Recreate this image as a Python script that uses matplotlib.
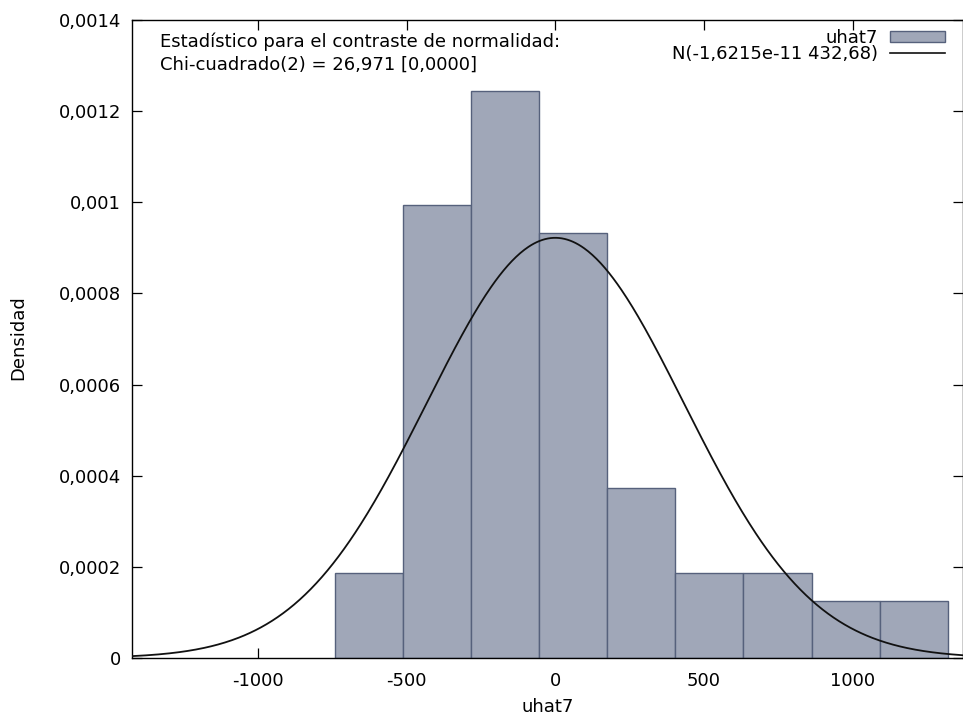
import numpy as np
import matplotlib
matplotlib.use("Agg")
import matplotlib.pyplot as plt
from matplotlib.patches import Patch
from matplotlib.lines import Line2D

plt.rcParams['font.family'] = ['DejaVu Sans']

# Data
bin_edges = [-741, -512, -283, -54, 175, 404, 633, 862, 1091, 1320]
densities = [0.000187, 0.000995, 0.001244, 0.000933, 0.000373, 0.000187, 0.000187, 0.000124, 0.000124]
norm_mean = -1.6215e-11
norm_sd = 432.68
xticks = [-1000, -500, 0, 500, 1000]
xtick_labels = ['-1000', '-500', '0', '500', '1000']
yticks = [0, 0.0002, 0.0004, 0.0006, 0.0008, 0.001, 0.0012, 0.0014]
ytick_labels = ['0', '0,0002', '0,0004', '0,0006', '0,0008', '0,001', '0,0012', '0,0014']

FS = 13

fig = plt.figure(figsize=(9.63, 7.18), dpi=100)
ax = fig.add_axes([132/963, 60/718, (962.5-132)/963, (658-20)/718])

fill = '#a0a7b8'
edge = '#56617c'
edges = np.array(bin_edges)
ax.bar(edges[:-1], densities, width=np.diff(edges), align='edge',
       color=fill, edgecolor=edge, linewidth=1.0, zorder=2)

xlo, xhi = -1424, 1370
xs = np.linspace(xlo, xhi, 600)
pdf = np.exp(-0.5 * ((xs - norm_mean) / norm_sd) ** 2) / (norm_sd * np.sqrt(2 * np.pi))
ax.plot(xs, pdf, color='#111111', linewidth=1.3, zorder=3)

ax.set_xlim(xlo, xhi)
ax.set_ylim(0, 0.0014)
ax.set_xticks(xticks)
ax.set_xticklabels(xtick_labels)
ax.set_yticks(yticks)
ax.set_yticklabels(ytick_labels)
ax.tick_params(direction='in', length=7, width=0.9, top=True, right=True,
               labelsize=FS, colors='black')
ax.tick_params(axis='x', pad=10)
ax.tick_params(axis='y', pad=8)
for s in ax.spines.values():
    s.set_linewidth(1.0)

ax.set_xlabel('uhat7', fontsize=FS, labelpad=6)
fig.text(18/963, 1 - 338/718, 'Densidad', rotation=90, ha='center', va='center', fontsize=FS)

ax.text(0.0337, 0.981, 'Estadístico para el contraste de normalidad:\nChi-cuadrado(2) = 26,971 [0,0000]',
        transform=ax.transAxes, ha='left', va='top', fontsize=FS, linespacing=1.38)

handles = [Patch(facecolor=fill, edgecolor=edge, linewidth=1.0),
           Line2D([0], [0], color='#111111', linewidth=1.2)]
labels = ['uhat7', 'N(-1,6215e-11 432,68)']
ax.legend(handles, labels, loc='upper right', frameon=False, markerfirst=False,
          fontsize=FS, handlelength=3.05, handleheight=0.6, handletextpad=0.65,
          labelspacing=-0.1, borderaxespad=0.0, borderpad=0.3,
          bbox_to_anchor=(0.985, 0.995))

fig.savefig('out.png', dpi=100)
